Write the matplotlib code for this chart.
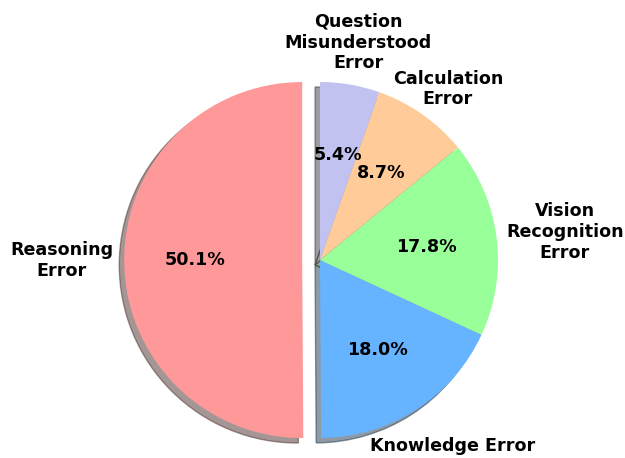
import matplotlib
matplotlib.use('Agg')
import matplotlib.pyplot as plt
import numpy as np

labels = ['Reasoning\nError', 'Knowledge Error', 'Vision\nRecognition\nError',
          'Calculation\nError', 'Question\nMisunderstood\nError']
sizes = [50.1, 18.0, 17.8, 8.7, 5.4]
colors = ['#ff9999', '#66b3ff', '#99ff99', '#ffcc99', '#c2c2f0']
explode = [0.1, 0, 0, 0, 0]
# label placement: distance in pie radii and angle nudge in degrees
label_dist = [1.35, 1.285, 1.385, 1.2, 1.24]
label_nudge = [0, 2.8, -0.7, -1.7, -0.2]

dpi = 100
W, H = 625, 458
fig = plt.figure(figsize=(W / dpi, H / dpi), dpi=dpi)
# square axes centred on the pie, 178 px radius
r_px = 178
lim = 1.25
side = 2 * lim * r_px
cx, cy = 320, H - 260
ax = fig.add_axes([(cx - side / 2) / W, (cy - side / 2) / H, side / W, side / H])

wedges, texts, autotexts = ax.pie(
    sizes, labels=labels, colors=colors, explode=explode, autopct='%1.1f%%',
    startangle=90, shadow=True,
    textprops={'fontsize': 12.6, 'fontweight': 'bold'})

# centre the labels on their wedge direction
for w, t, d, nud in zip(wedges, texts, label_dist, label_nudge):
    theta = np.deg2rad((w.theta1 + w.theta2) / 2 + nud)
    x0, y0 = w.center
    t.set_position((x0 + d * w.r * np.cos(theta), y0 + d * w.r * np.sin(theta)))
    t.set_ha('center')
    t.set_va('center')
    t.set_multialignment('center')

ax.set_xlim(-lim, lim)
ax.set_ylim(-lim, lim)
ax.set_aspect('equal')

fig.savefig('out.png', dpi=dpi)
plt.close(fig)
